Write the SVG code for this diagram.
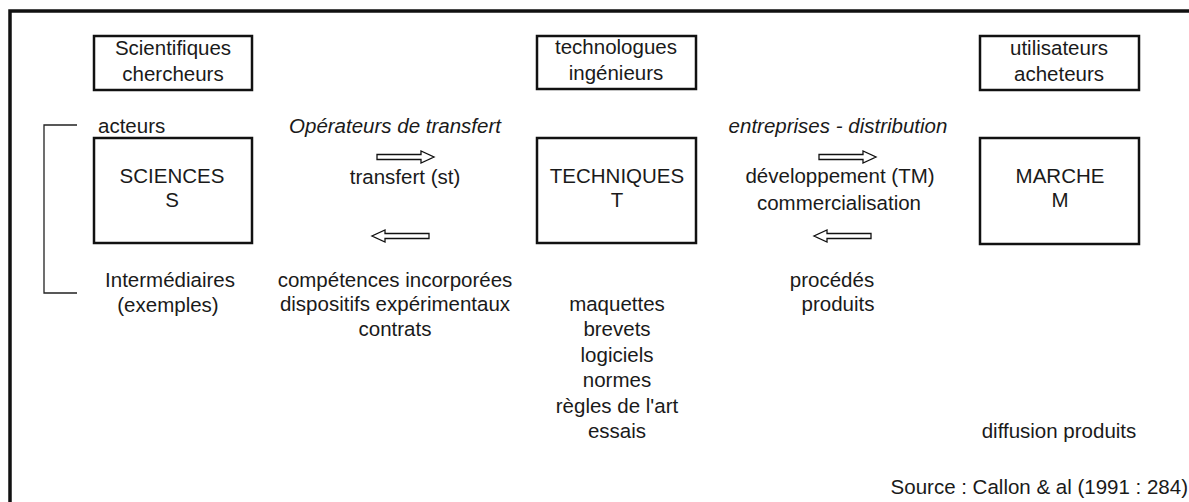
<svg xmlns="http://www.w3.org/2000/svg" width="1189" height="502" viewBox="0 0 1189 502">
<style>
text{font-family:"Liberation Sans",Arial,sans-serif;font-size:20.5px;fill:#1a1a1a}
.c{text-anchor:middle}
.i{font-style:italic}
.box{fill:none;stroke:#111;stroke-width:2.5}
.arr{fill:#fff;stroke:#111;stroke-width:1.3}
</style>
<defs>
<path id="ar" d="M0,-2.5 H44 V-6 L57,0 L44,6 V2.5 H0 Z"/>
</defs>
<rect x="0" y="0" width="1189" height="502" fill="#fff"/>
<rect x="10" y="11" width="1190" height="500" fill="none" stroke="#111" stroke-width="3.5"/>

<g id="scientifiques">
<rect class="box" x="94" y="36" width="158" height="54"/>
<text class="c" x="173" y="55">Scientifiques</text>
<text class="c" x="173" y="81">chercheurs</text>
</g>
<g id="technologues">
<rect class="box" x="537" y="36" width="159" height="53"/>
<text class="c" x="616" y="54">technologues</text>
<text class="c" x="616" y="80">ingénieurs</text>
</g>
<g id="utilisateurs">
<rect class="box" x="980" y="36" width="159" height="54"/>
<text class="c" x="1059" y="55">utilisateurs</text>
<text class="c" x="1059" y="81">acheteurs</text>
</g>

<g id="sciences">
<rect class="box" x="94" y="138" width="158" height="105"/>
<text class="c" x="172" y="183">SCIENCES</text>
<text class="c" x="172" y="207">S</text>
</g>
<g id="techniques">
<rect class="box" x="537" y="138" width="159" height="105"/>
<text class="c" x="617" y="183">TECHNIQUES</text>
<text class="c" x="617" y="207">T</text>
</g>
<g id="marche">
<rect class="box" x="980" y="138" width="159" height="106"/>
<text class="c" x="1060" y="183">MARCHE</text>
<text class="c" x="1060" y="207">M</text>
</g>

<g id="connectors">
<path d="M77,125 H44 V293 H77" fill="none" stroke="#222" stroke-width="1.3"/>
<use href="#ar" class="arr" transform="translate(377,157)"/>
<use href="#ar" class="arr" transform="translate(429,236) scale(-1,1)"/>
<use href="#ar" class="arr" transform="translate(819,157)"/>
<use href="#ar" class="arr" transform="translate(871,236) scale(-1,1)"/>
</g>

<g id="labels">
<text x="98" y="133">acteurs</text>
<text class="c i" x="395" y="133">Opérateurs de transfert</text>
<text class="c i" x="838" y="133">entreprises - distribution</text>
<text class="c" x="405" y="184">transfert (st)</text>
<text class="c" x="840" y="183">développement (TM)</text>
<text class="c" x="839" y="210">commercialisation</text>
<text class="c" x="170" y="287">Intermédiaires</text>
<text class="c" x="168" y="312">(exemples)</text>
<text class="c" x="395" y="287">compétences incorporées</text>
<text class="c" x="395" y="311">dispositifs expérimentaux</text>
<text class="c" x="395" y="336">contrats</text>
<text class="c" x="832" y="287">procédés</text>
<text class="c" x="838" y="311">produits</text>
<text class="c" x="617" y="311">maquettes</text>
<text class="c" x="617" y="336">brevets</text>
<text class="c" x="617" y="362">logiciels</text>
<text class="c" x="617" y="387">normes</text>
<text class="c" x="617" y="413">règles de l'art</text>
<text class="c" x="617" y="438">essais</text>
<text class="c" x="1059" y="438">diffusion produits</text>
<text x="1188" y="494" text-anchor="end">Source : Callon &amp; al (1991 : 284)</text>
</g>
</svg>
